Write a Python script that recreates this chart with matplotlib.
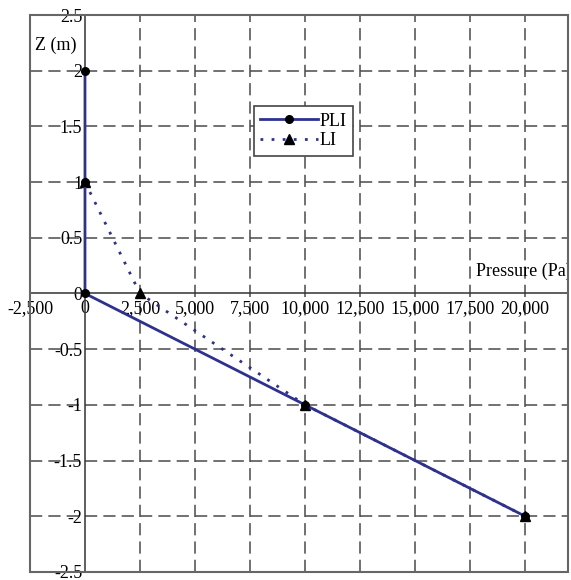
import matplotlib.pyplot as plt
from matplotlib.patches import Rectangle
from matplotlib.ticker import FuncFormatter

plt.rcParams['font.family'] = ['Liberation Serif', 'DejaVu Serif']
plt.rcParams['font.size'] = 13

# data
pli_x = [0, 0, 0, 10000, 20000]
pli_z = [2, 1, 0, -1, -2]
li_x = [0, 2500, 10000, 20000]
li_z = [1, 0, -1, -2]

x_ticks = [-2500, 0, 2500, 5000, 7500, 10000, 12500, 15000, 17500, 20000]
z_ticks = [-2.5, -2, -1.5, -1, -0.5, 0, 0.5, 1, 1.5, 2, 2.5]

fig = plt.figure(figsize=(5.71, 5.80), dpi=100)
ax = fig.add_axes([0.0525, 0.014, 0.9422, 0.960])
ax.set_xlim(-2500, 21950)
ax.set_ylim(-2.5, 2.5)

# dashed grid
grid_kw = dict(color='#4a4a4a', lw=1.1, ls=(0, (8, 4)), zorder=1)
for xv in x_ticks:
    if xv not in (0, -2500):
        ax.axvline(xv, **grid_kw)
for zv in z_ticks:
    if zv not in (0, -2.5, 2.5):
        ax.axhline(zv, **grid_kw)

# axes crossing at zero
ax.spines['left'].set_position(('data', 0))
ax.spines['bottom'].set_position(('data', 0))
ax.spines['top'].set_visible(False)
ax.spines['right'].set_visible(False)
for s in ['left', 'bottom']:
    ax.spines[s].set_color('#333333')
    ax.spines[s].set_linewidth(1.1)
ax.add_patch(Rectangle((0, 0), 1, 1, transform=ax.transAxes, fill=False,
                       edgecolor='#666666', lw=1.5, clip_on=False, zorder=5))

ax.set_xticks(x_ticks)
ax.set_yticks(z_ticks)
ax.xaxis.set_major_formatter(FuncFormatter(lambda v, p: '{:,.0f}'.format(v)))
ax.yaxis.set_major_formatter(FuncFormatter(lambda v, p: '%g' % v))
ax.tick_params(axis='x', length=0, pad=5, colors='black')
ax.tick_params(axis='y', length=0, pad=2, colors='black')

ax.plot(pli_x, pli_z, color='#2E3192', lw=2, marker='o', ms=5.5,
        mfc='black', mec='black', label='PLI', zorder=4)
ax.plot(li_x, li_z, color='#2E3192', lw=2, ls=(0, (1, 3)), marker='^', ms=6.5,
        mfc='black', mec='black', label='LI', zorder=3)

ax.text(-1350, 2.23, 'Z (m)', ha='center', va='center')
ax.text(17750, 0.2, 'Pressure (Pa)', ha='left', va='center', clip_on=True)

leg = ax.legend(loc='upper left', bbox_to_anchor=(0.416, 0.836), fancybox=False,
                framealpha=1, edgecolor='#444444', handlelength=3.2,
                borderpad=0.35, borderaxespad=0, labelspacing=0.15,
                handletextpad=0.1)
leg.get_frame().set_linewidth(1.2)

fig.savefig('out.png', dpi=100)
